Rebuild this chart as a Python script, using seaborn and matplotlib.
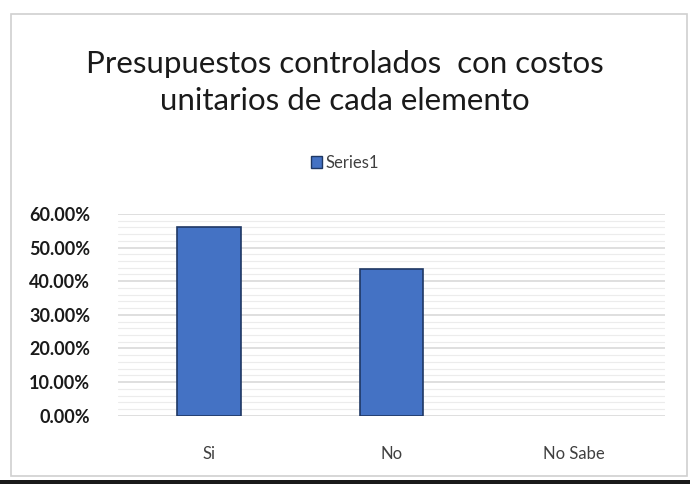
import matplotlib
matplotlib.use("Agg")
import matplotlib.pyplot as plt
import matplotlib.patches as mpatches
from matplotlib.ticker import MultipleLocator, PercentFormatter
import seaborn as sns
import pandas as pd

categories = ["Si", "No", "No Sabe"]
values = [56.25, 43.75, 0.0]
series_name = "Series1"
title = "Presupuestos controlados  con costos\nunitarios de cada elemento"

sns.set_theme(style="white")
plt.rcParams["font.family"] = ["Lato", "DejaVu Sans"]

df = pd.DataFrame({"categoria": categories, "valor": values})

fig = plt.figure(figsize=(6.9, 4.84), dpi=100)
ax = fig.add_axes([0.171, 0.141, 0.793, 0.417])

bar_color = "#4472C4"
sns.barplot(data=df, x="categoria", y="valor", ax=ax, color=bar_color,
            width=0.35, edgecolor="#1F3864", linewidth=1.2, saturation=1)
# an empty category gets no visible outline
for patch, v in zip(ax.patches, values):
    if v == 0:
        patch.set_linewidth(0)

ax.set_ylim(0, 60)
ax.yaxis.set_major_locator(MultipleLocator(10))
ax.yaxis.set_minor_locator(MultipleLocator(2))
ax.yaxis.set_major_formatter(PercentFormatter(decimals=2))
ax.grid(axis="y", which="major", color="#d9d9d9", linewidth=1.2)
ax.grid(axis="y", which="minor", color="#ececec", linewidth=0.8)
ax.set_axisbelow(True)
for s in ax.spines.values():
    s.set_visible(False)
ax.set_xlabel("")
ax.set_ylabel("")
ax.tick_params(axis="y", which="both", length=0, pad=20, labelsize=13)
ax.tick_params(axis="x", length=0, pad=22, labelsize=12, labelcolor="#404040")
for lbl in ax.get_yticklabels():
    lbl.set_fontweight("bold")
    lbl.set_color("#1a1a1a")

fig.text(0.5, 0.829, title, ha="center", va="center", fontsize=22.5,
         color="#1a1a1a", linespacing=1.4)

handle = mpatches.Patch(facecolor=bar_color, edgecolor="#1F3864", label=series_name)
fig.legend(handles=[handle], loc="center", bbox_to_anchor=(0.5, 0.663),
           frameon=False, fontsize=12, handlelength=0.7, handleheight=0.7,
           handletextpad=0.2, labelcolor="#404040")

# chart frame and lower edge
fig.patches.append(mpatches.Rectangle((11 / 690, 8 / 484), 676 / 690, 462 / 484,
                                      transform=fig.transFigure, fill=False,
                                      edgecolor="#d0d0d0", linewidth=1.2))
fig.patches.append(mpatches.Rectangle((0, 0), 1, 4 / 484, transform=fig.transFigure,
                                      facecolor="#1a1a1a", edgecolor="none"))

fig.savefig("out.png", dpi=100)
